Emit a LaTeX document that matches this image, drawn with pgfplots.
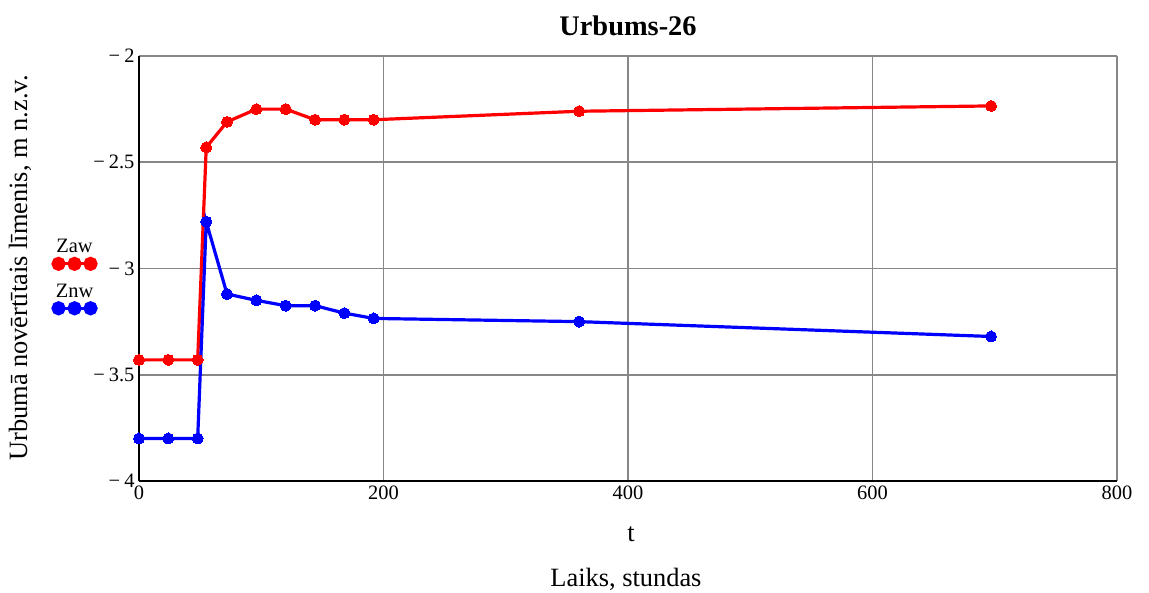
\documentclass[border=0pt]{standalone}
\usepackage{pgfplots}
\pgfplotsset{compat=1.18}
\usepackage{fontspec}
\setmainfont{Liberation Serif}
\definecolor{gridgray}{RGB}{135,135,135}
\definecolor{mred}{RGB}{255,0,0}
\definecolor{mblue}{RGB}{0,0,255}
\pgfplotstableread{
t zaw znw
0 -3.43 -3.80
24 -3.43 -3.80
48 -3.43 -3.80
55 -2.43 -2.78
72 -2.31 -3.12
96 -2.25 -3.15
120 -2.25 -3.175
144 -2.30 -3.175
168 -2.30 -3.21
192 -2.30 -3.235
360 -2.26 -3.25
697 -2.235 -3.32
}\datatable
\begin{document}
\begin{tikzpicture}
\useasboundingbox (-139bp,-112bp) rectangle (1010bp,481bp);
\begin{axis}[
  scale only axis, width=978bp, height=425bp,
  at={(0,0)}, anchor=south west,
  xmin=0, xmax=800, ymin=-4, ymax=-2,
  xtick={0,200,400,600,800},
  xticklabels={0,200,400,600,800},
  ytick={-4,-3.5,-3,-2.5,-2},
  yticklabels={−\hspace{4bp}4,−\hspace{4bp}3.5,−\hspace{4bp}3,−\hspace{4bp}2.5,−\hspace{4bp}2},
  grid=major,
  major grid style={gridgray, line width=1.6bp},
  axis x line*=bottom, axis y line*=left,
  axis line style={black, line width=1.8bp},
  major tick length=0pt,
  tick label style={font=\fontsize{20.5}{22}\selectfont},
  xticklabel style={anchor=north, yshift=-1bp},
  yticklabel style={anchor=east, xshift=-1bp},
  clip=false,
  legend style={at={(-0.0654,0.479)}, anchor=center, draw=none, fill=none,
    row sep=13bp, inner sep=0pt, legend cell align=left,
    nodes={inner sep=0pt, font=\fontsize{1}{1}\selectfont}},
]
\addplot[mred, line width=3.2bp, mark=*, mark size=5.5bp,
  mark options={fill=mred, draw=mred, line width=0pt},
  legend image code/.code={
    \draw[mred, line width=3.2bp] (-22bp,0bp) -- (22bp,0bp);
    \fill[mred] (-16bp,0bp) circle (5.5bp);
    \fill[mred] (0bp,0bp) circle (5.5bp);
    \fill[mred] (16bp,0bp) circle (5.5bp);
    \node[black, anchor=base, inner sep=0pt, font=\fontsize{20.5}{22}\selectfont] at (0bp,11bp) {Zaw};
  }] table[x=t, y=zaw] {\datatable};
\addlegendentry{}
\addplot[mblue, line width=3.2bp, mark=*, mark size=5.5bp,
  mark options={fill=mblue, draw=mblue, line width=0pt},
  legend image code/.code={
    \draw[mblue, line width=3.2bp] (-22bp,0bp) -- (22bp,0bp);
    \fill[mblue] (-16bp,0bp) circle (5.5bp);
    \fill[mblue] (0bp,0bp) circle (5.5bp);
    \fill[mblue] (16bp,0bp) circle (5.5bp);
    \node[black, anchor=base, inner sep=0pt, font=\fontsize{20.5}{22}\selectfont] at (0bp,11bp) {Znw};
  }] table[x=t, y=znw] {\datatable};
\addlegendentry{}
\end{axis}
\node[anchor=base, font=\fontsize{28.5}{32}\selectfont\bfseries] at (489bp,445bp) {Urbums-26};
\node[anchor=base, font=\fontsize{26.5}{30}\selectfont] at (492bp,-60bp) {t};
\node[anchor=base, font=\fontsize{26.5}{30}\selectfont] at (487bp,-105bp) {Laiks, stundas};
\node[rotate=90, anchor=center, font=\fontsize{26.5}{30}\selectfont] at (-119bp,213bp) {Urbumā novērtītais līmenis, m n.z.v.};
\end{tikzpicture}
\end{document}
